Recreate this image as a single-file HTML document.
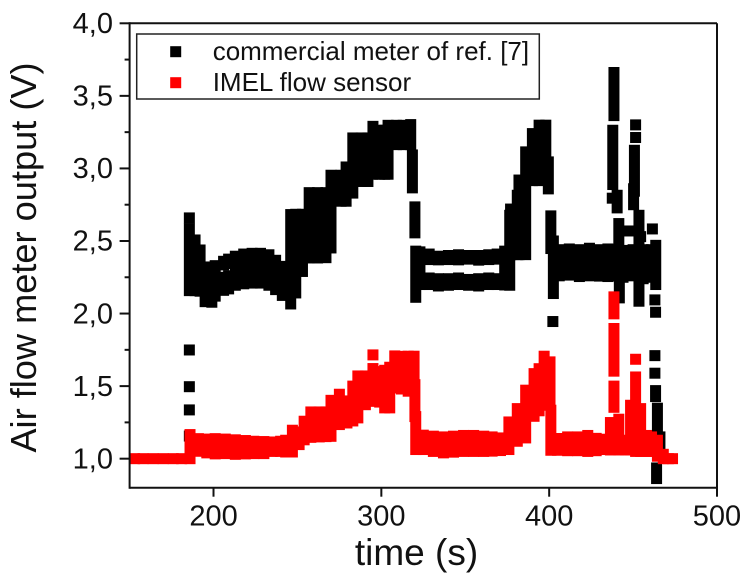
<!DOCTYPE html>
<html>
<head>
<meta charset="utf-8">
<title>Air flow meter output over time</title>
<style>
  html, body { margin: 0; padding: 0; background: #fff; }
  svg { display: block; font-family: "Liberation Sans", Arial, sans-serif; }
</style>
</head>
<body>
<svg id="chart" width="754" height="579" viewBox="0 0 754 579" xmlns="http://www.w3.org/2000/svg">
  <rect x="0" y="0" width="754" height="579" fill="#fff"/>
  <g id="marks"></g>
  <g id="axes"></g>
  <text x="416.5" y="565" font-size="37" text-anchor="middle" fill="#111">time (s)</text>
  <text transform="translate(36,257.5) rotate(-90)" font-size="36.2" text-anchor="middle" fill="#111">Air flow meter output (V)</text>
  <g>
    <rect x="136.7" y="34" width="402.6" height="65" fill="#fff" stroke="#222" stroke-width="1.5"/>
    <rect x="170.2" y="46.2" width="11" height="11" fill="#000"/>
    <text x="212.7" y="60" font-size="26" fill="#111">commercial meter of ref. [7]</text>
    <rect x="170.2" y="77.2" width="11" height="11" fill="#f00"/>
    <text x="212.7" y="91" font-size="26" fill="#111">IMEL flow sensor</text>
  </g>
</svg>
<script>
const xTickValues = [200, 300, 400, 500];
const xTickLabels = ["200", "300", "400", "500"];
const yTickValues = [1.0, 1.5, 2.0, 2.5, 3.0, 3.5, 4.0];
const yTickLabels = ["1,0", "1,5", "2,0", "2,5", "3,0", "3,5", "4,0"];
const yMinorTickValues = [1.25, 1.75, 2.25, 2.75, 3.25, 3.75];

const blackTimes = [
  185.6,185.6,185.6,185.6,185.6,185.6,189,192,195,199,
  201,206,206,209,209,213,218,223,228,233,
  237,241,246,249,253,257,262,267,270,276,
  279,283,288,292,295,299,302,304,309,313,
  317.5,318.5,320,320.5,323,
  328.5,328.5,334,334,340,340,346,346,352,352,
  358,358,364,364,369,369,373.5,
  376.5,377,381,382,386,390,394,398,399.5,401,402.2,402.5,
  406,412,418,424,430,435,438.6,444,450,456,461,463.5,
  438.6,437.9,437.6,440.5,441.5,441.8,
  451.5,451.5,450.8,450.3,453.5,447.5,454.5,
  461.5,463,463.4,463,463,463.4,464.5,466,464
];
const blackLows = [
  1.156,1.336,1.496,1.749,2.659,2.158,2.158,2.154,2.082,2.078,
  2.12,2.16,2.335,2.17,2.345,2.195,2.205,2.21,2.21,2.195,
  2.165,2.125,2.066,2.142,2.29,2.383,2.383,2.385,2.452,2.774,
  2.774,2.83,2.91,2.91,2.96,2.96,2.96,2.96,3.164,3.164,
  3.164,2.866,2.556,2.112,2.2,
  2.372,2.2,2.37,2.19,2.372,2.195,2.37,2.2,2.375,2.195,
  2.368,2.19,2.372,2.2,2.375,2.2,2.197,
  2.195,2.406,2.406,2.406,2.406,2.916,2.916,3.119,2.859,2.448,1.945,2.138,
  2.26,2.265,2.255,2.26,2.258,2.255,2.26,2.25,2.26,2.24,2.25,2.2,
  3.364,2.889,2.795,2.728,2.45,2.108,
  3.30,3.213,2.843,2.75,2.085,2.569,2.53,
  2.583,2.094,2.009,1.71,1.589,1.428,1.198,1.06,0.863
];
const blackHighs = [
  1.156,1.336,1.496,1.749,2.659,2.585,2.507,2.438,2.321,2.32,
  2.33,2.25,2.36,2.26,2.375,2.395,2.41,2.415,2.415,2.405,
  2.367,2.325,2.682,2.684,2.684,2.833,2.833,2.833,2.953,2.953,
  3.01,3.21,3.21,3.21,3.29,3.263,3.263,3.297,3.297,3.297,
  3.302,3.093,2.735,2.43,2.425,
  2.41,2.245,2.395,2.24,2.40,2.24,2.405,2.245,2.40,2.235,
  2.40,2.24,2.405,2.245,2.41,2.24,2.43,
  2.677,2.72,2.815,2.92,3.114,3.24,3.298,3.298,3.045,2.673,1.945,2.5,
  2.44,2.445,2.44,2.45,2.44,2.445,2.44,2.435,2.44,2.44,2.44,2.47,
  3.661,3.263,2.795,2.815,2.62,2.3,
  3.30,3.213,3.125,2.86,2.677,2.569,2.53,
  2.583,2.094,2.009,1.71,1.589,1.469,1.348,1.15,0.936
];

const redTimes = [
  153,158,164,170,176,181,186,191,196,201,
  207,213,219,224,230,235,240,243,247,251,
  254,258,263,267,270,275,279.5,283,286,290.5,
  295,295,299,302,305,308,312,316,319.5,320,
  320.5,325,331,337,343,349,355,361,366,371,
  376,381,386,391,394,397,400.5,401,405,411,
  417,423,428,432,438.6,438.6,438.6,436.5,441.5,445.5,
  448.5,451.5,451.5,454.5,458,461,464.5,468,471,473.5
];
const redLows = [
  1,1,1,1,1,1,1,1.051,1.04,1.033,
  1.035,1.03,1.033,1.035,1.035,1.05,1.05,1.046,1.046,1.097,
  1.13,1.147,1.15,1.152,1.154,1.235,1.246,1.26,1.281,1.372,
  1.395,1.715,1.39,1.35,1.35,1.487,1.48,1.465,1.51,1.29,
  1.063,1.063,1.05,1.04,1.045,1.05,1.05,1.05,1.052,1.056,
  1.063,1.12,1.143,1.292,1.33,1.368,1.407,1.058,1.058,1.055,
  1.055,1.05,1.055,1.063,1.998,1.603,1.354,1.06,1.06,1.06,
  1.06,1.05,1.685,1.05,1.05,1.05,1.017,1,1,1
];
const redHighs = [
  1,1,1,1,1,1,1.166,1.138,1.135,1.138,
  1.135,1.13,1.125,1.12,1.118,1.115,1.12,1.127,1.196,1.184,
  1.258,1.322,1.322,1.322,1.402,1.444,1.398,1.5,1.57,1.57,
  1.621,1.715,1.6,1.609,1.63,1.708,1.705,1.706,1.706,1.51,
  1.29,1.162,1.155,1.15,1.155,1.16,1.16,1.155,1.15,1.143,
  1.253,1.345,1.472,1.586,1.62,1.706,1.667,1.334,1.139,1.15,
  1.15,1.16,1.14,1.134,2.115,1.897,1.5,1.249,1.272,1.127,
  1.368,1.563,1.685,1.345,1.16,1.15,1.127,1.03,1,1
];

const NS = "http://www.w3.org/2000/svg";
const plotLeft = 129.6, plotRight = 717, plotTop = 23.3, plotBottom = 487.7;
const xMin = 150, xMax = 500, yMin = 0.8, yMax = 4.0;
function xScale(t) { return plotLeft + (t - xMin) / (xMax - xMin) * (plotRight - plotLeft); }
function yScale(v) { return plotBottom - (v - yMin) / (yMax - yMin) * (plotBottom - plotTop); }

const marksLayer = document.getElementById("marks");
const axesLayer = document.getElementById("axes");

function drawSeries(times, lows, highs, color, size, seriesName) {
  for (let i = 0; i < times.length; i++) {
    const r = document.createElementNS(NS, "rect");
    r.setAttribute("x", xScale(times[i]) - size / 2);
    r.setAttribute("y", yScale(highs[i]) - size / 2);
    r.setAttribute("width", size);
    r.setAttribute("height", yScale(lows[i]) - yScale(highs[i]) + size);
    r.setAttribute("fill", color);
    
    
    marksLayer.appendChild(r);
  }
}
drawSeries(blackTimes, blackLows, blackHighs, "#000", 11, "commercial-meter-point");
drawSeries(redTimes, redLows, redHighs, "#f00", 11, "imel-sensor-point");

function drawLine(x1, y1, x2, y2, name) {
  const l = document.createElementNS(NS, "line");
  l.setAttribute("x1", x1);
  l.setAttribute("y1", y1);
  l.setAttribute("x2", x2);
  l.setAttribute("y2", y2);
  l.setAttribute("stroke", "#111");
  l.setAttribute("stroke-width", "2");
  
  
  axesLayer.appendChild(l);
}
function drawLabel(x, y, str, anchor, name) {
  const t = document.createElementNS(NS, "text");
  t.setAttribute("x", x);
  t.setAttribute("y", y);
  t.setAttribute("font-size", "29");
  t.setAttribute("fill", "#111");
  t.setAttribute("text-anchor", anchor);
  
  
  t.textContent = str;
  axesLayer.appendChild(t);
}

drawLine(plotLeft, plotTop, plotRight, plotTop, "top-spine");
drawLine(plotRight, plotTop, plotRight, plotBottom, "right-spine");
drawLine(plotLeft, plotTop - 1, plotLeft, plotBottom + 1, "left-spine");
drawLine(plotLeft, plotBottom, plotRight + 1, plotBottom, "bottom-spine");

xTickValues.forEach(function (v, i) {
  drawLine(xScale(v), plotBottom, xScale(v), plotBottom + 9, "x-tick");
  drawLabel(xScale(v), 525.5, xTickLabels[i], "middle", "x-tick-label");
});
yTickValues.forEach(function (v, i) {
  drawLine(plotLeft - 10, yScale(v), plotLeft, yScale(v), "y-tick");
  drawLabel(113, yScale(v) + 9.7, yTickLabels[i], "end", "y-tick-label");
});
yMinorTickValues.forEach(function (v) {
  drawLine(plotLeft - 5, yScale(v), plotLeft, yScale(v), "y-minor-tick");
});
</script>
</body>
</html>
